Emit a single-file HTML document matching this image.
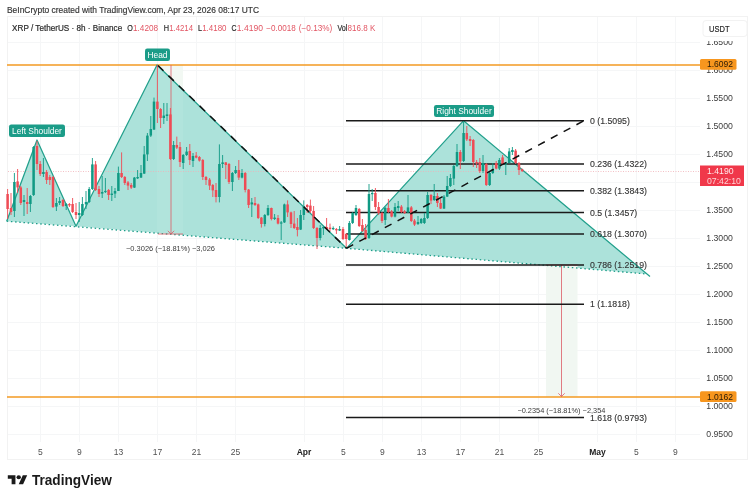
<!DOCTYPE html><html><head><meta charset="utf-8"><title>XRP / TetherUS chart</title>
<style>html,body{margin:0;padding:0;background:#fff}body{width:754px;height:500px;overflow:hidden}svg{display:block}text{font-family:"Liberation Sans",Arial,sans-serif}</style></head><body>
<svg width="754" height="500" viewBox="0 0 754 500">
<rect width="754" height="500" fill="#ffffff"/>
<g stroke="#f2f2f2" stroke-width="1" fill="none">
<rect x="7.5" y="16.5" width="740" height="443"/>
</g>
<g stroke="#f5f6f7" stroke-width="1">
<line x1="40.5" y1="17" x2="40.5" y2="442"/>
<line x1="79.5" y1="17" x2="79.5" y2="442"/>
<line x1="118.5" y1="17" x2="118.5" y2="442"/>
<line x1="157.5" y1="17" x2="157.5" y2="442"/>
<line x1="196.5" y1="17" x2="196.5" y2="442"/>
<line x1="235.5" y1="17" x2="235.5" y2="442"/>
<line x1="304.5" y1="17" x2="304.5" y2="442"/>
<line x1="343.5" y1="17" x2="343.5" y2="442"/>
<line x1="382.5" y1="17" x2="382.5" y2="442"/>
<line x1="421.5" y1="17" x2="421.5" y2="442"/>
<line x1="460.5" y1="17" x2="460.5" y2="442"/>
<line x1="499.5" y1="17" x2="499.5" y2="442"/>
<line x1="538.5" y1="17" x2="538.5" y2="442"/>
<line x1="597.5" y1="17" x2="597.5" y2="442"/>
<line x1="636.5" y1="17" x2="636.5" y2="442"/>
<line x1="675.5" y1="17" x2="675.5" y2="442"/>
<line x1="8" y1="42.5" x2="700" y2="42.5"/>
<line x1="8" y1="70.5" x2="700" y2="70.5"/>
<line x1="8" y1="98.5" x2="700" y2="98.5"/>
<line x1="8" y1="126.5" x2="700" y2="126.5"/>
<line x1="8" y1="154.5" x2="700" y2="154.5"/>
<line x1="8" y1="182.5" x2="700" y2="182.5"/>
<line x1="8" y1="210.5" x2="700" y2="210.5"/>
<line x1="8" y1="238.5" x2="700" y2="238.5"/>
<line x1="8" y1="266.5" x2="700" y2="266.5"/>
<line x1="8" y1="294.5" x2="700" y2="294.5"/>
<line x1="8" y1="322.5" x2="700" y2="322.5"/>
<line x1="8" y1="350.5" x2="700" y2="350.5"/>
<line x1="8" y1="378.5" x2="700" y2="378.5"/>
<line x1="8" y1="406.5" x2="700" y2="406.5"/>
<line x1="8" y1="434.5" x2="700" y2="434.5"/>
</g>
<rect x="157" y="65" width="26" height="169.0" fill="#f2f8f3"/>
<g fill="#ace2da" stroke="none">
<polygon points="6.7,221.2 37.0,140.0 76.0,226.3"/>
<polygon points="76.0,226.3 157.0,65.0 346.5,248.3"/>
<polygon points="346.5,248.3 463.6,120.7 646.9,274.0"/>
</g>
<rect x="157" y="65" width="26" height="169.0" fill="#ffffff" opacity="0.07"/>
<rect x="546" y="265" width="31.5" height="132" fill="#f1f7f2"/>
<line x1="8" y1="171.5" x2="700" y2="171.5" stroke="#f0b0b6" stroke-width="0.8" stroke-dasharray="1 1.5"/>
<line x1="7" y1="65" x2="700" y2="65" stroke="#f39a22" stroke-width="1.35"/>
<line x1="7" y1="397" x2="700" y2="397" stroke="#f39a22" stroke-width="1.35"/>
<polyline points="6.7,221.2 37.0,140.0 76.0,226.3 157.0,65.0 346.5,248.3 463.6,120.7 650.0,276.6" fill="none" stroke="#22a08c" stroke-width="1.25" stroke-linejoin="round"/>
<polyline fill="none" points="6.7,221.2 346.5,248.3 646.9,274.0" stroke="#1b9c88" stroke-width="1.3" stroke-dasharray="1.5 2.7"/>
<g stroke="#dc5a64" stroke-width="0.8" fill="none">
<path d="M171 65V234.0M158 234.0H183M167.8 230.8L171 234.0L174.2 230.8"/>
<path d="M561.5 265V396.5M546 265H577.5M558.3 393.3L561.5 396.5L564.7 393.3"/>
</g>
<g stroke="#1a1a1a" stroke-width="1.5">
<line x1="346" y1="120.7" x2="584" y2="120.7"/>
<line x1="346" y1="164.0" x2="584" y2="164.0"/>
<line x1="346" y1="190.8" x2="584" y2="190.8"/>
<line x1="346" y1="212.4" x2="584" y2="212.4"/>
<line x1="346" y1="234.1" x2="584" y2="234.1"/>
<line x1="346" y1="264.9" x2="584" y2="264.9"/>
<line x1="346" y1="304.2" x2="584" y2="304.2"/>
<line x1="346" y1="417.6" x2="584" y2="417.6"/>
</g>
<g>
<path d="M7.6 189.0V219.0" stroke="#ef4b55" stroke-width="0.9"/><rect x="6.35" y="194.0" width="2.5" height="15.0" fill="#ef4b55"/>
<path d="M11.0 193.0V215.0" stroke="#ef4b55" stroke-width="0.9"/><rect x="9.75" y="208.0" width="2.5" height="4.0" fill="#ef4b55"/>
<path d="M14.4 173.0V217.0" stroke="#109a84" stroke-width="0.9"/><rect x="13.15" y="182.0" width="2.5" height="29.0" fill="#109a84"/>
<path d="M17.6 169.0V193.0" stroke="#ef4b55" stroke-width="0.9"/><rect x="16.35" y="181.4" width="2.5" height="6.0" fill="#ef4b55"/>
<path d="M20.8 186.0V205.0" stroke="#ef4b55" stroke-width="0.9"/><rect x="19.55" y="187.4" width="2.5" height="15.6" fill="#ef4b55"/>
<path d="M24.0 195.0V216.0" stroke="#109a84" stroke-width="0.9"/><rect x="22.75" y="200.0" width="2.5" height="2.0" fill="#109a84"/>
<path d="M27.2 188.0V214.0" stroke="#ef4b55" stroke-width="0.9"/><rect x="25.95" y="202.0" width="2.5" height="2.0" fill="#ef4b55"/>
<path d="M30.4 195.0V212.0" stroke="#109a84" stroke-width="0.9"/><rect x="29.15" y="196.0" width="2.5" height="8.0" fill="#109a84"/>
<path d="M33.6 146.0V196.0" stroke="#109a84" stroke-width="0.9"/><rect x="32.35" y="147.0" width="2.5" height="48.0" fill="#109a84"/>
<path d="M37.0 141.0V170.0" stroke="#ef4b55" stroke-width="0.9"/><rect x="35.75" y="146.0" width="2.5" height="18.0" fill="#ef4b55"/>
<path d="M40.2 161.0V176.0" stroke="#ef4b55" stroke-width="0.9"/><rect x="38.95" y="164.0" width="2.5" height="10.0" fill="#ef4b55"/>
<path d="M43.4 158.0V177.0" stroke="#109a84" stroke-width="0.9"/><rect x="42.15" y="172.0" width="2.5" height="2.0" fill="#109a84"/>
<path d="M46.6 170.0V184.0" stroke="#ef4b55" stroke-width="0.9"/><rect x="45.35" y="172.0" width="2.5" height="8.0" fill="#ef4b55"/>
<path d="M49.8 175.0V185.0" stroke="#ef4b55" stroke-width="0.9"/><rect x="48.55" y="177.0" width="2.5" height="3.0" fill="#ef4b55"/>
<path d="M53.0 176.0V208.0" stroke="#ef4b55" stroke-width="0.9"/><rect x="51.75" y="177.0" width="2.5" height="30.0" fill="#ef4b55"/>
<path d="M56.4 198.0V211.0" stroke="#109a84" stroke-width="0.9"/><rect x="55.15" y="203.0" width="2.5" height="3.6" fill="#109a84"/>
<path d="M59.6 197.0V205.0" stroke="#109a84" stroke-width="0.9"/><rect x="58.35" y="201.0" width="2.5" height="2.0" fill="#109a84"/>
<path d="M63.0 199.0V207.0" stroke="#ef4b55" stroke-width="0.9"/><rect x="61.75" y="200.0" width="2.5" height="6.0" fill="#ef4b55"/>
<path d="M66.2 203.0V210.0" stroke="#109a84" stroke-width="0.9"/><rect x="64.95" y="204.0" width="2.5" height="2.0" fill="#109a84"/>
<path d="M69.4 203.0V207.0" stroke="#ef4b55" stroke-width="0.9"/><rect x="68.15" y="204.0" width="2.5" height="1.4" fill="#ef4b55"/>
<path d="M72.6 198.0V213.0" stroke="#ef4b55" stroke-width="0.9"/><rect x="71.35" y="204.0" width="2.5" height="8.0" fill="#ef4b55"/>
<path d="M76.0 203.0V219.0" stroke="#ef4b55" stroke-width="0.9"/><rect x="74.75" y="212.0" width="2.5" height="3.0" fill="#ef4b55"/>
<path d="M79.2 202.0V222.0" stroke="#109a84" stroke-width="0.9"/><rect x="77.95" y="213.0" width="2.5" height="2.0" fill="#109a84"/>
<path d="M82.4 197.0V216.0" stroke="#109a84" stroke-width="0.9"/><rect x="81.15" y="204.0" width="2.5" height="11.0" fill="#109a84"/>
<path d="M86.0 191.0V209.0" stroke="#109a84" stroke-width="0.9"/><rect x="84.75" y="202.0" width="2.5" height="2.4" fill="#109a84"/>
<path d="M89.2 187.0V203.0" stroke="#109a84" stroke-width="0.9"/><rect x="87.95" y="189.0" width="2.5" height="13.0" fill="#109a84"/>
<path d="M92.4 158.0V190.0" stroke="#109a84" stroke-width="0.9"/><rect x="91.15" y="164.4" width="2.5" height="24.6" fill="#109a84"/>
<path d="M95.6 161.0V191.0" stroke="#ef4b55" stroke-width="0.9"/><rect x="94.35" y="164.4" width="2.5" height="25.6" fill="#ef4b55"/>
<path d="M99.0 186.0V197.0" stroke="#ef4b55" stroke-width="0.9"/><rect x="97.75" y="189.0" width="2.5" height="5.0" fill="#ef4b55"/>
<path d="M102.2 176.0V198.0" stroke="#109a84" stroke-width="0.9"/><rect x="100.95" y="192.0" width="2.5" height="1.6" fill="#109a84"/>
<path d="M105.4 178.0V193.0" stroke="#109a84" stroke-width="0.9"/><rect x="104.15" y="190.9" width="2.5" height="1.2" fill="#109a84"/>
<path d="M108.6 189.0V200.0" stroke="#ef4b55" stroke-width="0.9"/><rect x="107.35" y="190.0" width="2.5" height="5.0" fill="#ef4b55"/>
<path d="M111.8 186.0V201.0" stroke="#109a84" stroke-width="0.9"/><rect x="110.55" y="193.6" width="2.5" height="1.4" fill="#109a84"/>
<path d="M115.0 188.0V198.0" stroke="#109a84" stroke-width="0.9"/><rect x="113.75" y="191.0" width="2.5" height="2.6" fill="#109a84"/>
<path d="M118.4 166.6V191.0" stroke="#109a84" stroke-width="0.9"/><rect x="117.15" y="173.0" width="2.5" height="18.0" fill="#109a84"/>
<path d="M121.6 152.4V178.0" stroke="#ef4b55" stroke-width="0.9"/><rect x="120.35" y="173.0" width="2.5" height="4.0" fill="#ef4b55"/>
<path d="M124.8 176.0V185.0" stroke="#ef4b55" stroke-width="0.9"/><rect x="123.55" y="177.0" width="2.5" height="6.0" fill="#ef4b55"/>
<path d="M128.0 181.0V190.0" stroke="#ef4b55" stroke-width="0.9"/><rect x="126.75" y="182.4" width="2.5" height="3.2" fill="#ef4b55"/>
<path d="M131.2 183.0V189.0" stroke="#ef4b55" stroke-width="0.9"/><rect x="129.95" y="185.0" width="2.5" height="2.6" fill="#ef4b55"/>
<path d="M134.4 177.0V188.0" stroke="#109a84" stroke-width="0.9"/><rect x="133.15" y="177.6" width="2.5" height="10.0" fill="#109a84"/>
<path d="M137.6 170.0V179.0" stroke="#109a84" stroke-width="0.9"/><rect x="136.35" y="177.0" width="2.5" height="1.4" fill="#109a84"/>
<path d="M141.0 165.0V178.0" stroke="#109a84" stroke-width="0.9"/><rect x="139.75" y="173.0" width="2.5" height="4.6" fill="#109a84"/>
<path d="M144.2 146.0V174.0" stroke="#109a84" stroke-width="0.9"/><rect x="142.95" y="154.4" width="2.5" height="19.2" fill="#109a84"/>
<path d="M147.4 133.0V161.0" stroke="#109a84" stroke-width="0.9"/><rect x="146.15" y="135.6" width="2.5" height="18.8" fill="#109a84"/>
<path d="M150.8 116.0V137.0" stroke="#109a84" stroke-width="0.9"/><rect x="149.55" y="129.0" width="2.5" height="6.6" fill="#109a84"/>
<path d="M154.0 97.6V130.0" stroke="#109a84" stroke-width="0.9"/><rect x="152.75" y="101.6" width="2.5" height="28.0" fill="#109a84"/>
<path d="M157.4 65.0V123.0" stroke="#ef4b55" stroke-width="0.9"/><rect x="156.15" y="101.6" width="2.5" height="7.4" fill="#ef4b55"/>
<path d="M160.6 108.0V128.0" stroke="#ef4b55" stroke-width="0.9"/><rect x="159.35" y="109.0" width="2.5" height="9.0" fill="#ef4b55"/>
<path d="M163.8 103.0V124.0" stroke="#109a84" stroke-width="0.9"/><rect x="162.55" y="115.6" width="2.5" height="2.4" fill="#109a84"/>
<path d="M167.0 103.0V121.0" stroke="#109a84" stroke-width="0.9"/><rect x="165.75" y="114.4" width="2.5" height="1.6" fill="#109a84"/>
<path d="M170.4 108.0V160.0" stroke="#ef4b55" stroke-width="0.9"/><rect x="169.15" y="114.4" width="2.5" height="44.6" fill="#ef4b55"/>
<path d="M173.6 141.0V160.0" stroke="#109a84" stroke-width="0.9"/><rect x="172.35" y="145.0" width="2.5" height="14.0" fill="#109a84"/>
<path d="M176.8 136.6V149.0" stroke="#ef4b55" stroke-width="0.9"/><rect x="175.55" y="145.0" width="2.5" height="2.6" fill="#ef4b55"/>
<path d="M180.0 142.0V167.0" stroke="#ef4b55" stroke-width="0.9"/><rect x="178.75" y="147.0" width="2.5" height="15.0" fill="#ef4b55"/>
<path d="M183.2 154.0V169.0" stroke="#109a84" stroke-width="0.9"/><rect x="181.95" y="155.0" width="2.5" height="8.0" fill="#109a84"/>
<path d="M186.6 147.0V156.0" stroke="#109a84" stroke-width="0.9"/><rect x="185.35" y="151.6" width="2.5" height="3.4" fill="#109a84"/>
<path d="M189.8 144.0V165.0" stroke="#ef4b55" stroke-width="0.9"/><rect x="188.55" y="151.0" width="2.5" height="9.0" fill="#ef4b55"/>
<path d="M193.0 153.0V167.0" stroke="#109a84" stroke-width="0.9"/><rect x="191.75" y="156.0" width="2.5" height="5.0" fill="#109a84"/>
<path d="M196.2 152.0V158.4" stroke="#ef4b55" stroke-width="0.9"/><rect x="194.95" y="155.6" width="2.5" height="2.0" fill="#ef4b55"/>
<path d="M199.4 156.0V161.6" stroke="#ef4b55" stroke-width="0.9"/><rect x="198.15" y="157.0" width="2.5" height="3.6" fill="#ef4b55"/>
<path d="M202.8 159.0V180.0" stroke="#ef4b55" stroke-width="0.9"/><rect x="201.55" y="160.0" width="2.5" height="17.0" fill="#ef4b55"/>
<path d="M206.0 176.0V185.0" stroke="#ef4b55" stroke-width="0.9"/><rect x="204.75" y="177.0" width="2.5" height="3.0" fill="#ef4b55"/>
<path d="M209.6 178.0V190.0" stroke="#ef4b55" stroke-width="0.9"/><rect x="208.35" y="179.6" width="2.5" height="6.0" fill="#ef4b55"/>
<path d="M212.8 184.0V197.0" stroke="#ef4b55" stroke-width="0.9"/><rect x="211.55" y="185.0" width="2.5" height="5.4" fill="#ef4b55"/>
<path d="M216.0 183.0V202.4" stroke="#ef4b55" stroke-width="0.9"/><rect x="214.75" y="190.0" width="2.5" height="7.0" fill="#ef4b55"/>
<path d="M219.4 144.4V202.4" stroke="#109a84" stroke-width="0.9"/><rect x="218.15" y="164.0" width="2.5" height="33.0" fill="#109a84"/>
<path d="M222.6 155.0V168.0" stroke="#109a84" stroke-width="0.9"/><rect x="221.35" y="162.4" width="2.5" height="1.6" fill="#109a84"/>
<path d="M225.8 162.0V179.0" stroke="#ef4b55" stroke-width="0.9"/><rect x="224.55" y="162.4" width="2.5" height="2.6" fill="#ef4b55"/>
<path d="M229.0 163.0V184.0" stroke="#ef4b55" stroke-width="0.9"/><rect x="227.75" y="164.0" width="2.5" height="18.0" fill="#ef4b55"/>
<path d="M232.4 172.0V191.0" stroke="#109a84" stroke-width="0.9"/><rect x="231.15" y="173.0" width="2.5" height="9.0" fill="#109a84"/>
<path d="M235.6 166.0V174.0" stroke="#109a84" stroke-width="0.9"/><rect x="234.35" y="170.0" width="2.5" height="3.0" fill="#109a84"/>
<path d="M238.8 160.0V180.0" stroke="#ef4b55" stroke-width="0.9"/><rect x="237.55" y="170.0" width="2.5" height="7.6" fill="#ef4b55"/>
<path d="M242.0 169.0V178.4" stroke="#109a84" stroke-width="0.9"/><rect x="240.75" y="173.0" width="2.5" height="4.6" fill="#109a84"/>
<path d="M245.2 172.0V192.4" stroke="#ef4b55" stroke-width="0.9"/><rect x="243.95" y="173.0" width="2.5" height="17.0" fill="#ef4b55"/>
<path d="M248.6 189.0V208.0" stroke="#ef4b55" stroke-width="0.9"/><rect x="247.35" y="189.6" width="2.5" height="15.4" fill="#ef4b55"/>
<path d="M251.8 198.0V217.0" stroke="#109a84" stroke-width="0.9"/><rect x="250.55" y="202.4" width="2.5" height="2.0" fill="#109a84"/>
<path d="M255.0 197.0V206.0" stroke="#ef4b55" stroke-width="0.9"/><rect x="253.75" y="203.0" width="2.5" height="2.0" fill="#ef4b55"/>
<path d="M258.2 203.6V219.0" stroke="#ef4b55" stroke-width="0.9"/><rect x="256.95" y="204.4" width="2.5" height="13.6" fill="#ef4b55"/>
<path d="M261.4 217.0V227.6" stroke="#ef4b55" stroke-width="0.9"/><rect x="260.15" y="217.6" width="2.5" height="6.4" fill="#ef4b55"/>
<path d="M264.8 214.0V226.4" stroke="#109a84" stroke-width="0.9"/><rect x="263.55" y="215.0" width="2.5" height="9.0" fill="#109a84"/>
<path d="M268.0 205.0V216.0" stroke="#109a84" stroke-width="0.9"/><rect x="266.75" y="208.0" width="2.5" height="7.0" fill="#109a84"/>
<path d="M271.4 207.6V220.4" stroke="#ef4b55" stroke-width="0.9"/><rect x="270.15" y="208.0" width="2.5" height="11.0" fill="#ef4b55"/>
<path d="M274.6 214.0V220.0" stroke="#109a84" stroke-width="0.9"/><rect x="273.35" y="217.6" width="2.5" height="1.4" fill="#109a84"/>
<path d="M278.0 215.0V224.4" stroke="#ef4b55" stroke-width="0.9"/><rect x="276.75" y="218.0" width="2.5" height="5.6" fill="#ef4b55"/>
<path d="M281.2 221.0V240.0" stroke="#109a84" stroke-width="0.9"/><rect x="279.95" y="222.4" width="2.5" height="1.2" fill="#109a84"/>
<path d="M284.4 203.6V223.0" stroke="#109a84" stroke-width="0.9"/><rect x="283.15" y="204.4" width="2.5" height="18.0" fill="#109a84"/>
<path d="M287.6 200.4V217.0" stroke="#ef4b55" stroke-width="0.9"/><rect x="286.35" y="204.4" width="2.5" height="8.0" fill="#ef4b55"/>
<path d="M291.0 211.6V228.0" stroke="#ef4b55" stroke-width="0.9"/><rect x="289.75" y="212.4" width="2.5" height="11.6" fill="#ef4b55"/>
<path d="M294.2 211.0V229.0" stroke="#ef4b55" stroke-width="0.9"/><rect x="292.95" y="223.6" width="2.5" height="4.4" fill="#ef4b55"/>
<path d="M297.4 218.0V236.4" stroke="#ef4b55" stroke-width="0.9"/><rect x="296.15" y="227.0" width="2.5" height="3.0" fill="#ef4b55"/>
<path d="M300.6 210.0V230.0" stroke="#109a84" stroke-width="0.9"/><rect x="299.35" y="215.0" width="2.5" height="14.6" fill="#109a84"/>
<path d="M303.8 200.4V220.0" stroke="#109a84" stroke-width="0.9"/><rect x="302.55" y="206.4" width="2.5" height="8.6" fill="#109a84"/>
<path d="M307.2 204.0V213.0" stroke="#ef4b55" stroke-width="0.9"/><rect x="305.95" y="205.0" width="2.5" height="2.0" fill="#ef4b55"/>
<path d="M310.4 199.6V213.0" stroke="#ef4b55" stroke-width="0.9"/><rect x="309.15" y="205.6" width="2.5" height="5.4" fill="#ef4b55"/>
<path d="M313.6 206.0V229.0" stroke="#ef4b55" stroke-width="0.9"/><rect x="312.35" y="211.0" width="2.5" height="17.0" fill="#ef4b55"/>
<path d="M317.0 227.0V249.0" stroke="#ef4b55" stroke-width="0.9"/><rect x="315.75" y="228.0" width="2.5" height="10.0" fill="#ef4b55"/>
<path d="M320.2 225.0V240.4" stroke="#109a84" stroke-width="0.9"/><rect x="318.95" y="228.0" width="2.5" height="10.0" fill="#109a84"/>
<path d="M323.4 226.0V235.0" stroke="#109a84" stroke-width="0.9"/><rect x="322.15" y="227.0" width="2.5" height="1.4" fill="#109a84"/>
<path d="M326.6 218.0V230.0" stroke="#ef4b55" stroke-width="0.9"/><rect x="325.35" y="227.0" width="2.5" height="2.0" fill="#ef4b55"/>
<path d="M330.0 223.6V231.0" stroke="#ef4b55" stroke-width="0.9"/><rect x="328.75" y="227.6" width="2.5" height="1.4" fill="#ef4b55"/>
<path d="M333.2 226.4V230.0" stroke="#109a84" stroke-width="0.9"/><rect x="331.95" y="228.0" width="2.5" height="1.2" fill="#109a84"/>
<path d="M336.4 228.0V234.0" stroke="#ef4b55" stroke-width="0.9"/><rect x="335.15" y="229.0" width="2.5" height="1.4" fill="#ef4b55"/>
<path d="M339.6 226.0V231.0" stroke="#109a84" stroke-width="0.9"/><rect x="338.35" y="229.0" width="2.5" height="1.6" fill="#109a84"/>
<path d="M343.0 227.0V240.0" stroke="#ef4b55" stroke-width="0.9"/><rect x="341.75" y="229.0" width="2.5" height="10.0" fill="#ef4b55"/>
<path d="M346.2 233.0V248.0" stroke="#ef4b55" stroke-width="0.9"/><rect x="344.95" y="234.0" width="2.5" height="5.0" fill="#ef4b55"/>
<path d="M349.4 221.0V240.6" stroke="#109a84" stroke-width="0.9"/><rect x="348.15" y="223.0" width="2.5" height="17.0" fill="#109a84"/>
<path d="M352.6 212.0V224.0" stroke="#109a84" stroke-width="0.9"/><rect x="351.35" y="213.0" width="2.5" height="10.0" fill="#109a84"/>
<path d="M356.0 205.0V216.0" stroke="#109a84" stroke-width="0.9"/><rect x="354.75" y="208.0" width="2.5" height="7.0" fill="#109a84"/>
<path d="M359.2 208.0V227.0" stroke="#ef4b55" stroke-width="0.9"/><rect x="357.95" y="209.0" width="2.5" height="17.0" fill="#ef4b55"/>
<path d="M362.4 219.0V232.0" stroke="#ef4b55" stroke-width="0.9"/><rect x="361.15" y="225.0" width="2.5" height="6.0" fill="#ef4b55"/>
<path d="M365.6 224.0V240.0" stroke="#ef4b55" stroke-width="0.9"/><rect x="364.35" y="230.0" width="2.5" height="9.0" fill="#ef4b55"/>
<path d="M369.0 184.0V239.0" stroke="#109a84" stroke-width="0.9"/><rect x="367.75" y="194.0" width="2.5" height="44.0" fill="#109a84"/>
<path d="M372.2 189.0V201.0" stroke="#109a84" stroke-width="0.9"/><rect x="370.95" y="193.0" width="2.5" height="1.2" fill="#109a84"/>
<path d="M375.4 188.0V210.0" stroke="#ef4b55" stroke-width="0.9"/><rect x="374.15" y="193.0" width="2.5" height="14.0" fill="#ef4b55"/>
<path d="M378.6 202.0V215.0" stroke="#ef4b55" stroke-width="0.9"/><rect x="377.35" y="207.0" width="2.5" height="6.0" fill="#ef4b55"/>
<path d="M382.0 212.0V223.0" stroke="#ef4b55" stroke-width="0.9"/><rect x="380.75" y="213.0" width="2.5" height="8.0" fill="#ef4b55"/>
<path d="M385.2 207.0V225.0" stroke="#109a84" stroke-width="0.9"/><rect x="383.95" y="208.0" width="2.5" height="12.0" fill="#109a84"/>
<path d="M388.4 199.0V213.0" stroke="#ef4b55" stroke-width="0.9"/><rect x="387.15" y="208.0" width="2.5" height="4.0" fill="#ef4b55"/>
<path d="M391.6 210.0V217.4" stroke="#ef4b55" stroke-width="0.9"/><rect x="390.35" y="211.4" width="2.5" height="5.2" fill="#ef4b55"/>
<path d="M395.0 203.0V217.4" stroke="#109a84" stroke-width="0.9"/><rect x="393.75" y="207.0" width="2.5" height="9.6" fill="#109a84"/>
<path d="M398.2 201.0V211.0" stroke="#109a84" stroke-width="0.9"/><rect x="396.95" y="206.0" width="2.5" height="2.0" fill="#109a84"/>
<path d="M401.4 205.0V213.0" stroke="#ef4b55" stroke-width="0.9"/><rect x="400.15" y="206.6" width="2.5" height="5.4" fill="#ef4b55"/>
<path d="M404.6 210.0V214.0" stroke="#ef4b55" stroke-width="0.9"/><rect x="403.35" y="211.4" width="2.5" height="1.6" fill="#ef4b55"/>
<path d="M408.0 195.0V213.0" stroke="#109a84" stroke-width="0.9"/><rect x="406.75" y="207.4" width="2.5" height="5.2" fill="#109a84"/>
<path d="M411.3 206.0V222.0" stroke="#ef4b55" stroke-width="0.9"/><rect x="410.05" y="207.4" width="2.5" height="13.6" fill="#ef4b55"/>
<path d="M414.5 219.0V226.0" stroke="#ef4b55" stroke-width="0.9"/><rect x="413.25" y="220.6" width="2.5" height="4.0" fill="#ef4b55"/>
<path d="M418.0 216.0V225.0" stroke="#109a84" stroke-width="0.9"/><rect x="416.75" y="222.0" width="2.5" height="2.0" fill="#109a84"/>
<path d="M421.2 218.0V224.0" stroke="#109a84" stroke-width="0.9"/><rect x="419.95" y="219.0" width="2.5" height="4.0" fill="#109a84"/>
<path d="M424.4 213.0V224.0" stroke="#109a84" stroke-width="0.9"/><rect x="423.15" y="218.0" width="2.5" height="5.0" fill="#109a84"/>
<path d="M427.6 192.0V219.0" stroke="#109a84" stroke-width="0.9"/><rect x="426.35" y="195.0" width="2.5" height="23.0" fill="#109a84"/>
<path d="M431.0 194.0V204.0" stroke="#ef4b55" stroke-width="0.9"/><rect x="429.75" y="195.0" width="2.5" height="5.6" fill="#ef4b55"/>
<path d="M434.2 184.0V201.0" stroke="#109a84" stroke-width="0.9"/><rect x="432.95" y="196.0" width="2.5" height="4.0" fill="#109a84"/>
<path d="M437.4 193.0V207.0" stroke="#ef4b55" stroke-width="0.9"/><rect x="436.15" y="196.0" width="2.5" height="7.0" fill="#ef4b55"/>
<path d="M440.6 199.0V209.0" stroke="#ef4b55" stroke-width="0.9"/><rect x="439.35" y="203.0" width="2.5" height="5.6" fill="#ef4b55"/>
<path d="M444.0 195.0V209.0" stroke="#109a84" stroke-width="0.9"/><rect x="442.75" y="196.6" width="2.5" height="12.0" fill="#109a84"/>
<path d="M447.2 176.0V197.0" stroke="#109a84" stroke-width="0.9"/><rect x="445.95" y="186.0" width="2.5" height="10.6" fill="#109a84"/>
<path d="M450.4 174.0V187.0" stroke="#109a84" stroke-width="0.9"/><rect x="449.15" y="178.0" width="2.5" height="8.0" fill="#109a84"/>
<path d="M453.8 165.0V185.0" stroke="#109a84" stroke-width="0.9"/><rect x="452.55" y="166.0" width="2.5" height="12.6" fill="#109a84"/>
<path d="M457.0 144.0V167.0" stroke="#109a84" stroke-width="0.9"/><rect x="455.75" y="152.0" width="2.5" height="14.0" fill="#109a84"/>
<path d="M460.3 150.0V169.0" stroke="#ef4b55" stroke-width="0.9"/><rect x="459.05" y="152.0" width="2.5" height="9.4" fill="#ef4b55"/>
<path d="M463.6 121.0V162.0" stroke="#109a84" stroke-width="0.9"/><rect x="462.35" y="133.0" width="2.5" height="28.0" fill="#109a84"/>
<path d="M466.8 126.0V141.0" stroke="#ef4b55" stroke-width="0.9"/><rect x="465.55" y="133.0" width="2.5" height="6.4" fill="#ef4b55"/>
<path d="M470.1 136.0V146.0" stroke="#ef4b55" stroke-width="0.9"/><rect x="468.85" y="139.0" width="2.5" height="2.0" fill="#ef4b55"/>
<path d="M473.3 139.0V167.0" stroke="#ef4b55" stroke-width="0.9"/><rect x="472.05" y="140.0" width="2.5" height="22.0" fill="#ef4b55"/>
<path d="M476.6 160.0V168.0" stroke="#ef4b55" stroke-width="0.9"/><rect x="475.35" y="162.0" width="2.5" height="1.4" fill="#ef4b55"/>
<path d="M479.8 158.0V173.0" stroke="#ef4b55" stroke-width="0.9"/><rect x="478.55" y="162.0" width="2.5" height="9.0" fill="#ef4b55"/>
<path d="M483.0 155.0V173.0" stroke="#109a84" stroke-width="0.9"/><rect x="481.75" y="163.0" width="2.5" height="8.0" fill="#109a84"/>
<path d="M486.3 163.0V186.0" stroke="#ef4b55" stroke-width="0.9"/><rect x="485.05" y="164.0" width="2.5" height="21.0" fill="#ef4b55"/>
<path d="M489.6 172.0V186.0" stroke="#109a84" stroke-width="0.9"/><rect x="488.35" y="173.0" width="2.5" height="12.0" fill="#109a84"/>
<path d="M492.8 163.0V174.0" stroke="#109a84" stroke-width="0.9"/><rect x="491.55" y="169.0" width="2.5" height="4.0" fill="#109a84"/>
<path d="M496.2 161.0V169.4" stroke="#ef4b55" stroke-width="0.9"/><rect x="494.95" y="163.0" width="2.5" height="5.6" fill="#ef4b55"/>
<path d="M499.4 158.0V170.0" stroke="#109a84" stroke-width="0.9"/><rect x="498.15" y="160.0" width="2.5" height="8.6" fill="#109a84"/>
<path d="M502.6 155.0V165.0" stroke="#ef4b55" stroke-width="0.9"/><rect x="501.35" y="157.4" width="2.5" height="6.6" fill="#ef4b55"/>
<path d="M505.8 162.0V175.0" stroke="#109a84" stroke-width="0.9"/><rect x="504.55" y="163.0" width="2.5" height="1.6" fill="#109a84"/>
<path d="M509.2 148.0V163.4" stroke="#109a84" stroke-width="0.9"/><rect x="507.95" y="151.4" width="2.5" height="11.6" fill="#109a84"/>
<path d="M512.4 147.0V155.0" stroke="#109a84" stroke-width="0.9"/><rect x="511.15" y="150.0" width="2.5" height="2.0" fill="#109a84"/>
<path d="M515.6 149.0V164.0" stroke="#ef4b55" stroke-width="0.9"/><rect x="514.35" y="150.6" width="2.5" height="12.4" fill="#ef4b55"/>
<path d="M519.0 162.0V175.0" stroke="#ef4b55" stroke-width="0.9"/><rect x="517.75" y="163.0" width="2.5" height="7.0" fill="#ef4b55"/>
<path d="M522.2 168.6V172.0" stroke="#ef4b55" stroke-width="0.9"/><rect x="520.95" y="169.4" width="2.5" height="1.6" fill="#ef4b55"/>
</g>
<line x1="158" y1="65.5" x2="346.5" y2="248.3" stroke="#111" stroke-width="1.5" stroke-dasharray="7.6 6.9"/>
<line x1="346.5" y1="248.3" x2="584" y2="120.7" stroke="#111" stroke-width="1.5" stroke-dasharray="7.6 6.9"/>
<g font-size="7.2" fill="#3a3a3a">
<text x="126" y="250.9" textLength="89" lengthAdjust="spacingAndGlyphs">−0.3026 (−18.81%) −3,026</text>
<text x="517.4" y="413.1" textLength="88" lengthAdjust="spacingAndGlyphs">−0.2354 (−18.81%) −2,354</text>
</g>
<g font-size="8.75" fill="#333" stroke="#333" stroke-width="0.12">
<text x="590" y="123.8">0 (1.5095)</text>
<text x="590" y="167.1">0.236 (1.4322)</text>
<text x="590" y="193.9">0.382 (1.3843)</text>
<text x="590" y="215.5">0.5 (1.3457)</text>
<text x="590" y="237.2">0.618 (1.3070)</text>
<text x="590" y="268.0">0.786 (1.2519)</text>
<text x="590" y="307.3">1 (1.1818)</text>
<text x="590" y="420.7">1.618 (0.9793)</text>
</g>
<rect x="9" y="124.5" width="56" height="12.5" rx="2.2" fill="#1b9c88"/>
<text x="37.0" y="133.8" font-size="8.4" fill="#fff" text-anchor="middle">Left Shoulder</text>
<rect x="145" y="48.5" width="25" height="12.5" rx="2.2" fill="#1b9c88"/>
<text x="157.5" y="57.8" font-size="8.4" fill="#fff" text-anchor="middle">Head</text>
<rect x="434" y="105" width="60" height="12" rx="2.2" fill="#1b9c88"/>
<text x="464.0" y="113.8" font-size="8.4" fill="#fff" text-anchor="middle">Right Shoulder</text>
<g font-size="8.7" fill="#3c3c3c">
<text x="706.3" y="45.1">1.6500</text>
<text x="706.3" y="73.1">1.6000</text>
<text x="706.3" y="101.1">1.5500</text>
<text x="706.3" y="129.1">1.5000</text>
<text x="706.3" y="157.1">1.4500</text>
<text x="706.3" y="185.1">1.4000</text>
<text x="706.3" y="213.1">1.3500</text>
<text x="706.3" y="241.1">1.3000</text>
<text x="706.3" y="269.1">1.2500</text>
<text x="706.3" y="297.1">1.2000</text>
<text x="706.3" y="325.1">1.1500</text>
<text x="706.3" y="353.1">1.1000</text>
<text x="706.3" y="381.1">1.0500</text>
<text x="706.3" y="409.1">1.0000</text>
<text x="706.3" y="437.1">0.9500</text>
</g>
<rect x="701" y="17" width="46" height="24" fill="#fff"/>
<rect x="703" y="20.5" width="44" height="16" rx="3" fill="#fff" stroke="#f2f2f2"/>
<text x="709" y="31.8" font-size="8.5" fill="#222" stroke="#222" stroke-width="0.15" textLength="20.5" lengthAdjust="spacingAndGlyphs">USDT</text>
<rect x="700" y="59" width="36.5" height="10.8" rx="1.5" fill="#f7961e"/>
<text x="707" y="67.4" font-size="8.5" fill="#2a1a05">1.6092</text>
<rect x="700" y="391.2" width="36.5" height="10.8" rx="1.5" fill="#f7961e"/>
<text x="707" y="399.6" font-size="8.5" fill="#2a1a05">1.0162</text>
<rect x="700" y="165.5" width="44" height="20.5" fill="#f0384a"/>
<text x="707" y="174.3" font-size="8.7" fill="#ffe9ea">1.4190</text>
<text x="707" y="183.8" font-size="8.7" fill="#ffd3d6">07:42:10</text>
<g font-size="8.5" fill="#505050" text-anchor="middle">
<text x="40.4" y="455">5</text>
<text x="79.4" y="455">9</text>
<text x="118.4" y="455">13</text>
<text x="157.4" y="455">17</text>
<text x="196.4" y="455">21</text>
<text x="235.4" y="455">25</text>
<text x="304" y="455" font-weight="bold" fill="#222">Apr</text>
<text x="343.4" y="455">5</text>
<text x="382.4" y="455">9</text>
<text x="421.4" y="455">13</text>
<text x="460.4" y="455">17</text>
<text x="499.4" y="455">21</text>
<text x="538.4" y="455">25</text>
<text x="597.5" y="455" font-weight="bold" fill="#222">May</text>
<text x="636.4" y="455">5</text>
<text x="675.4" y="455">9</text>
</g>
<text x="7" y="13.3" font-size="8.4" fill="#333" stroke="#333" stroke-width="0.15" textLength="252" lengthAdjust="spacingAndGlyphs">BeInCrypto created with TradingView.com, Apr 23, 2026 08:17 UTC</text>
<g font-size="8.3">
<text x="12.1" y="31" fill="#2b2b2b" stroke="#2b2b2b" stroke-width="0.2" textLength="110.1" lengthAdjust="spacingAndGlyphs">XRP / TetherUS · 8h · Binance</text>
<text x="127.2" y="31" fill="#2b2b2b" stroke="#2b2b2b" stroke-width="0.2" textLength="5.6" lengthAdjust="spacingAndGlyphs">O</text>
<text x="133" y="31" fill="#e25563" textLength="25.2" lengthAdjust="spacingAndGlyphs">1.4208</text>
<text x="163.7" y="31" fill="#2b2b2b" stroke="#2b2b2b" stroke-width="0.2" textLength="5.3" lengthAdjust="spacingAndGlyphs">H</text>
<text x="169.2" y="31" fill="#e25563" textLength="23.8" lengthAdjust="spacingAndGlyphs">1.4214</text>
<text x="198" y="31" fill="#2b2b2b" stroke="#2b2b2b" stroke-width="0.2" textLength="4.0" lengthAdjust="spacingAndGlyphs">L</text>
<text x="202.2" y="31" fill="#e25563" textLength="24.3" lengthAdjust="spacingAndGlyphs">1.4180</text>
<text x="231.6" y="31" fill="#2b2b2b" stroke="#2b2b2b" stroke-width="0.2" textLength="5.0" lengthAdjust="spacingAndGlyphs">C</text>
<text x="236.8" y="31" fill="#e25563" textLength="26.2" lengthAdjust="spacingAndGlyphs">1.4190</text>
<text x="266.3" y="31" fill="#e25563" textLength="29.5" lengthAdjust="spacingAndGlyphs">−0.0018</text>
<text x="298.8" y="31" fill="#e25563" textLength="33.5" lengthAdjust="spacingAndGlyphs">(−0.13%)</text>
<text x="337.4" y="31" fill="#2b2b2b" stroke="#2b2b2b" stroke-width="0.2" textLength="10.0" lengthAdjust="spacingAndGlyphs">Vol</text>
<text x="347.6" y="31" fill="#e25563" textLength="27.7" lengthAdjust="spacingAndGlyphs">816.8 K</text>
</g>
<g transform="translate(7.8,473.1) scale(0.546,0.51)" fill="#1a1a1a"><path d="M14 22H7V11H0V4h14v18zM28 22h-8l7.5-18h8L28 22z"/><circle cx="20" cy="8" r="4"/></g>
<text x="31.9" y="484.5" font-size="14.2" font-weight="bold" fill="#1a1a1a" textLength="80" lengthAdjust="spacingAndGlyphs">TradingView</text>
</svg></body></html>
